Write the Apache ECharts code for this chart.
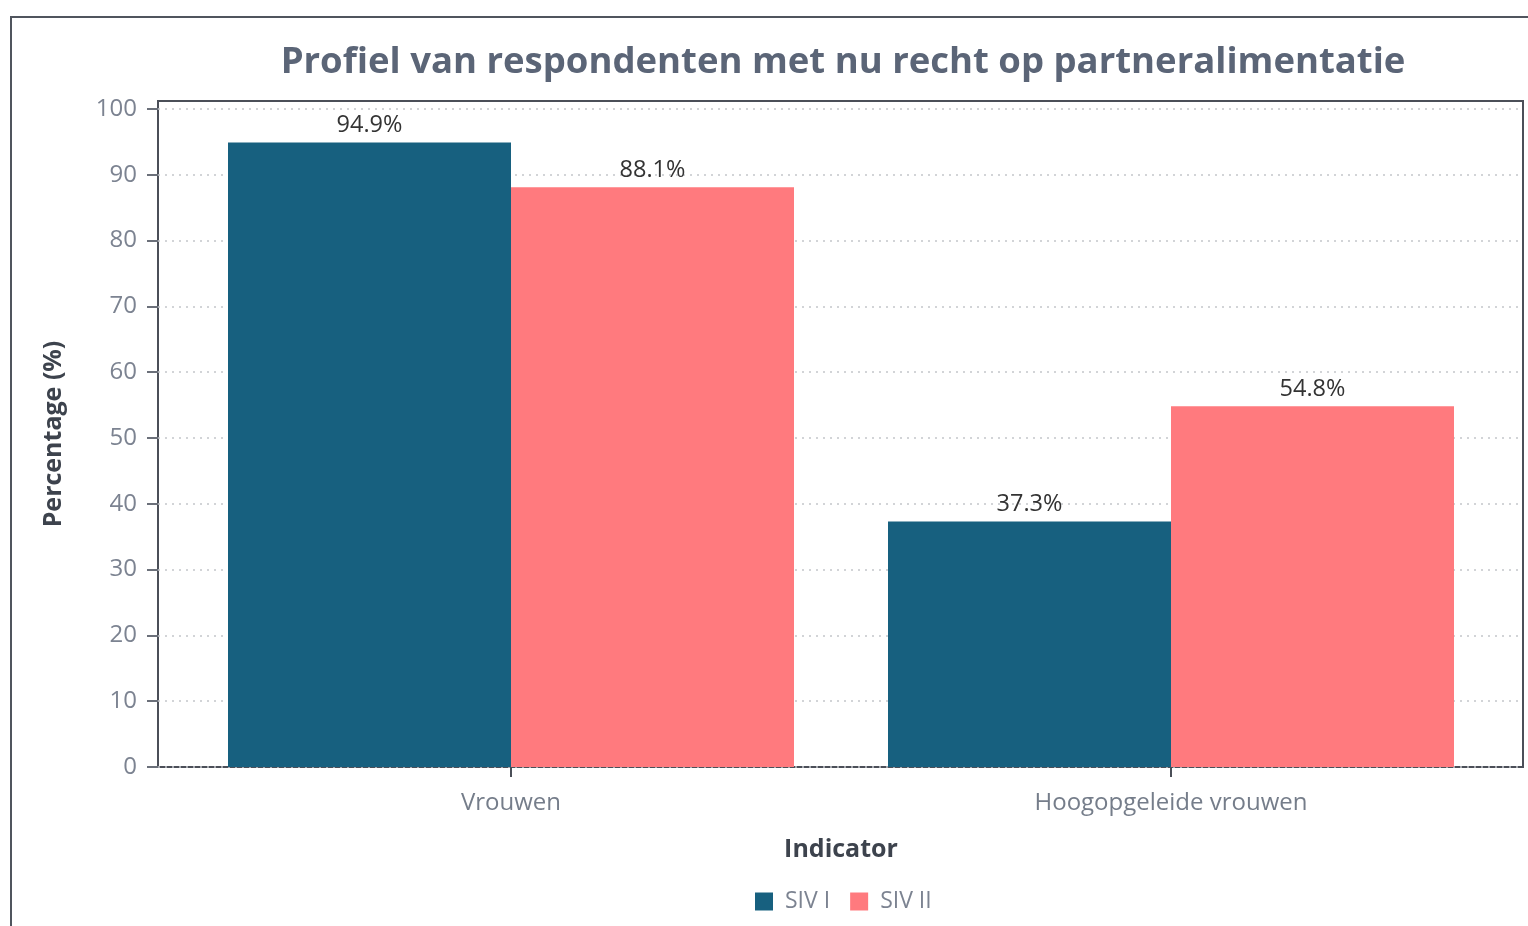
<!DOCTYPE html>
<html>
<head>
<meta charset="utf-8">
<script src="https://cdn.jsdelivr.net/npm/echarts@6/dist/echarts.min.js"></script>
<style>
  html, body { margin: 0; padding: 0; background: #fff; }
  #chart { width: 1528px; height: 926px; }
</style>
</head>
<body>
<div id="chart"></div>
<script>
// categories and series values
const categories = ['Vrouwen', 'Hoogopgeleide vrouwen'];
const sivI = [94.9, 37.3];
const sivII = [88.1, 54.8];
const yTicks = [0, 10, 20, 30, 40, 50, 60, 70, 80, 90, 100];

const FONT = '"Open Sans"';
const chart = echarts.init(document.getElementById('chart'));

const option = {
  backgroundColor: '#fff',
  textStyle: { fontFamily: FONT },
  title: {
    text: 'Profiel van respondenten met nu recht op partneralimentatie',
    left: 838,
    textAlign: 'center',
    top: 39,
    textStyle: { fontSize: 36.5, fontWeight: 'bold', color: '#5b6577', fontFamily: FONT }
  },
  graphic: [{
    type: 'rect',
    shape: { x: 11, y: 17, width: 1600, height: 1000 },
    style: { fill: 'none', stroke: '#50555e', lineWidth: 2 },
    silent: true
  }],
  legend: {
    left: 750,
    top: 885,
    icon: 'rect',
    itemWidth: 18,
    itemHeight: 18,
    itemGap: 20,
    textStyle: { fontSize: 23, color: '#7c8391', fontFamily: FONT, padding: [0, 0, 0, 7] },
    data: ['SIV I', 'SIV II']
  },
  grid: [
    { left: 158, right: 5, top: 101, bottom: 159, show: true, borderColor: '#4b4f58', borderWidth: 2, backgroundColor: 'transparent' },
    { left: 181, right: 27, top: 101, bottom: 159 }
  ],
  xAxis: [
    { gridIndex: 0, type: 'value', min: 0, max: 1, show: false },
    {
      gridIndex: 1,
      type: 'category',
      data: categories,
      axisLine: { show: false },
      axisTick: { show: true, alignWithLabel: true, length: 10, lineStyle: { color: '#4b4f58', width: 2 } },
      axisLabel: { fontSize: 24, color: '#757d8a', margin: 24, fontFamily: FONT },
      name: 'Indicator',
      nameLocation: 'middle',
      nameGap: 70,
      nameTextStyle: { fontSize: 25, fontWeight: 'bold', color: '#3d434d', fontFamily: FONT }
    }
  ],
  yAxis: [
    {
      gridIndex: 0,
      type: 'value',
      min: 0,
      max: 101.2,
      interval: 10,
      axisLine: { show: false },
      axisTick: { show: true, length: 11, customValues: yTicks, lineStyle: { color: '#6b707a', width: 2 } },
      axisLabel: { fontSize: 24, color: '#7c8391', margin: 21, customValues: yTicks, fontFamily: FONT },
      splitLine: { show: true, lineStyle: { color: '#c4c6ca', width: 1.5, type: [2, 5] } },
      name: 'Percentage (%)',
      nameLocation: 'middle',
      nameGap: 92,
      nameTextStyle: { fontSize: 25, fontWeight: 'bold', color: '#3d434d', fontFamily: FONT }
    },
    { gridIndex: 1, type: 'value', min: 0, max: 101.2, show: false, splitLine: { show: false } }
  ],
  series: [
    {
      name: 'SIV I',
      type: 'bar',
      xAxisIndex: 1,
      yAxisIndex: 1,
      data: sivI,
      barWidth: 283,
      barGap: '0%',
      itemStyle: { color: '#17607f' },
      label: { show: true, position: 'top', distance: 5, fontSize: 23.5, color: '#333', fontFamily: FONT, formatter: p => p.value + '%' }
    },
    {
      name: 'SIV II',
      type: 'bar',
      xAxisIndex: 1,
      yAxisIndex: 1,
      data: sivII,
      barWidth: 283,
      barGap: '0%',
      itemStyle: { color: '#ff7a7e' },
      label: { show: true, position: 'top', distance: 5, fontSize: 23.5, color: '#333', fontFamily: FONT, formatter: p => p.value + '%' }
    }
  ]
};

chart.setOption(option);
</script>
</body>
</html>
